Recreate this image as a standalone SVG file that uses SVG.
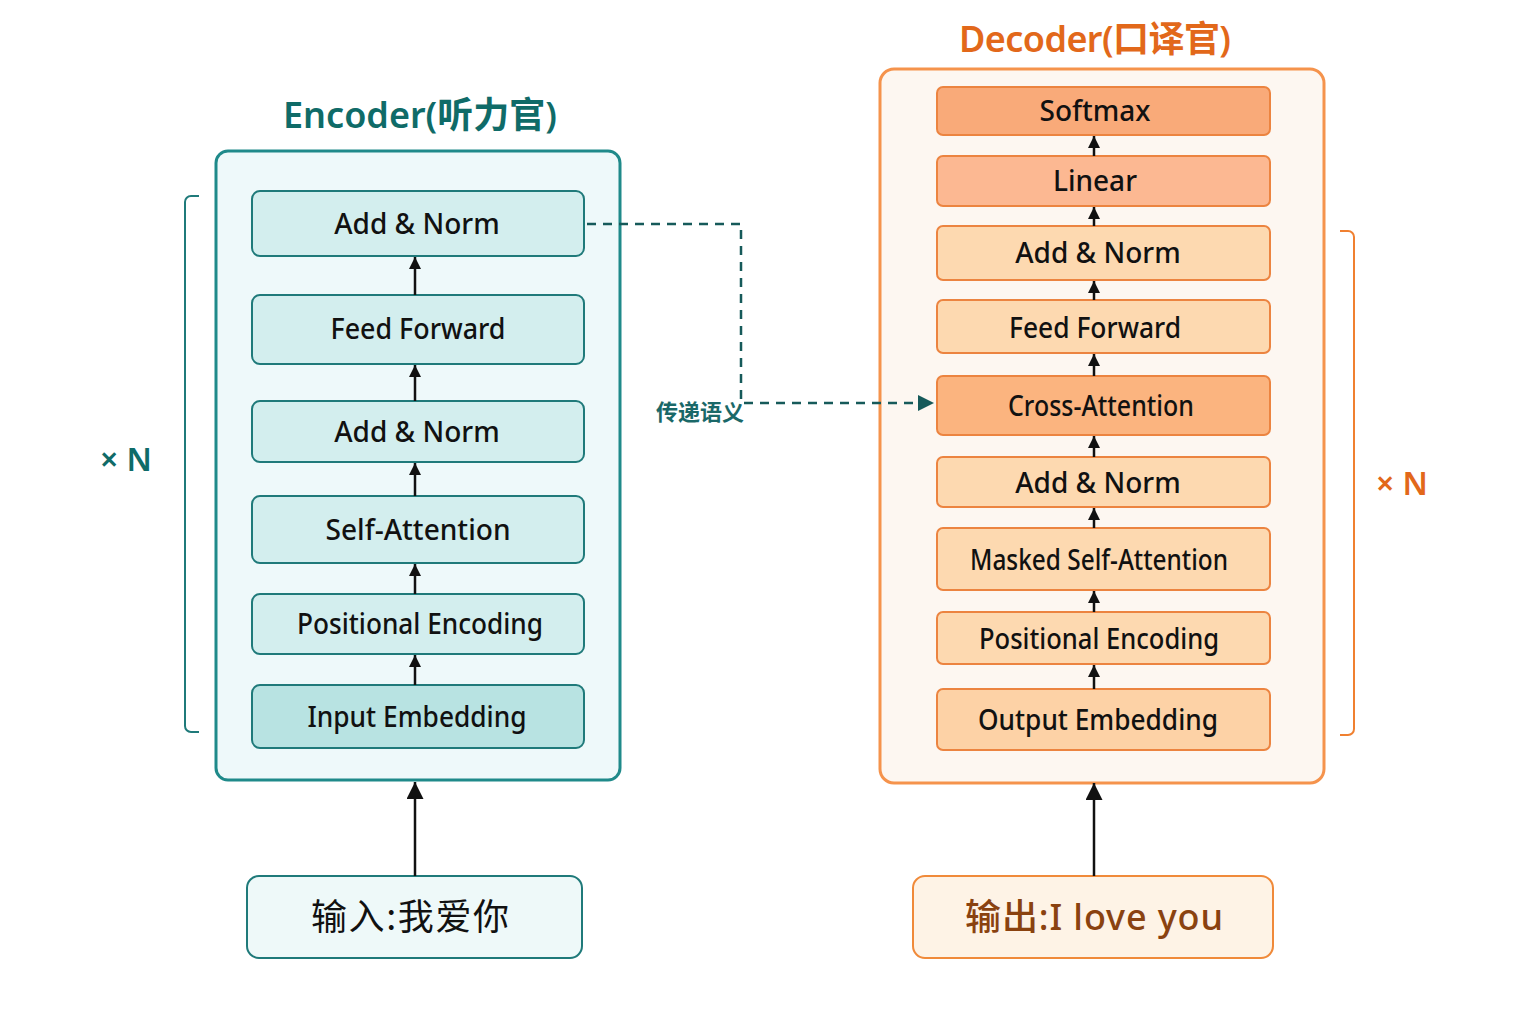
<svg xmlns="http://www.w3.org/2000/svg" width="1536" height="1024" viewBox="0 0 1536 1024">
<defs>
<style>
.lbl{font-family:"Noto Sans","Noto Sans CJK SC",sans-serif;font-size:28px;fill:#111;text-anchor:middle;font-weight:500}
.title{font-family:"Noto Sans","Noto Sans CJK SC",sans-serif;font-size:36px;font-weight:600;text-anchor:middle}
.eb{fill:#d3eeee;stroke:#1f7a7a;stroke-width:2}
.db{stroke:#ec8440;stroke-width:2}
.arr{stroke:#111;stroke-width:2.5;fill:none;marker-end:url(#ah)}
</style>
<marker id="ah" viewBox="0 0 10 10" refX="10" refY="5" markerWidth="12" markerHeight="12" orient="auto" markerUnits="userSpaceOnUse">
<path d="M0,0 L10,5 L0,10 z" fill="#111"/>
</marker>
<marker id="ahb" viewBox="0 0 10 10" refX="10" refY="5" markerWidth="17" markerHeight="17" orient="auto" markerUnits="userSpaceOnUse">
<path d="M0,0 L10,5 L0,10 z" fill="#111"/>
</marker>
<marker id="aht" viewBox="0 0 10 10" refX="10" refY="5" markerWidth="16" markerHeight="16" orient="auto" markerUnits="userSpaceOnUse">
<path d="M0,0 L10,5 L0,10 z" fill="#165a5a"/>
</marker>
</defs>
<rect width="1536" height="1024" fill="#fff"/>

<g id="encoder">
<text class="title" x="420" y="128" fill="#0f6b68" textLength="274" lengthAdjust="spacing">Encoder(听力官)</text>
<rect x="216" y="151" width="404" height="629" rx="12" fill="#eef9fa" stroke="#1f8a8a" stroke-width="3"/>
</g>
<g id="enc-addnorm2"><rect class="eb" x="252" y="191" width="332" height="65" rx="8"/><text class="lbl" x="417" y="234">Add &amp; Norm</text></g>
<g id="enc-ff"><rect class="eb" x="252" y="295" width="332" height="69" rx="8"/><text class="lbl" x="418" y="339" textLength="175" lengthAdjust="spacingAndGlyphs">Feed Forward</text></g>
<g id="enc-addnorm1"><rect class="eb" x="252" y="401" width="332" height="61" rx="8"/><text class="lbl" x="417" y="442">Add &amp; Norm</text></g>
<g id="enc-sa"><rect class="eb" x="252" y="496" width="332" height="67" rx="8"/><text class="lbl" x="418" y="540" textLength="185" lengthAdjust="spacingAndGlyphs">Self-Attention</text></g>
<g id="enc-pe"><rect class="eb" x="252" y="594" width="332" height="60" rx="8"/><text class="lbl" x="420" y="634" textLength="246" lengthAdjust="spacingAndGlyphs">Positional Encoding</text></g>
<g id="enc-ie"><rect class="eb" x="252" y="685" width="332" height="63" rx="8" style="fill:#b8e3e2"/><text class="lbl" x="417" y="727" textLength="219" lengthAdjust="spacingAndGlyphs">Input Embedding</text></g>
<g id="input"><rect x="247" y="876" width="335" height="82" rx="12" fill="#eef9f9" stroke="#1f7a7a" stroke-width="2"/><text class="lbl" x="410" y="930" style="font-size:36px;font-family:'Noto Sans CJK SC',sans-serif;font-weight:400" textLength="198" lengthAdjust="spacing">输入:我爱你</text></g>
<g id="enc-rep">
<path d="M199,196 h-8 a6,6 0 0 0 -6,6 v524 a6,6 0 0 0 6,6 h8" fill="none" stroke="#1f7a7a" stroke-width="2"/>
<text x="100" y="471" style="font-family:'Noto Sans',sans-serif;font-size:32px;font-weight:600" fill="#0f6b68">× N</text>
</g>

<g id="decoder">
<text class="title" x="1095" y="52" fill="#e2681a" textLength="272" lengthAdjust="spacing">Decoder(口译官)</text>
<rect x="880" y="69" width="444" height="714" rx="14" fill="#fdf7f1" stroke="#f5934c" stroke-width="3"/>
</g>
<g id="dec-softmax"><rect class="db" x="937" y="87" width="333" height="48" rx="6" fill="#f9aa79"/><text class="lbl" x="1095" y="121">Softmax</text></g>
<g id="dec-linear"><rect class="db" x="937" y="156" width="333" height="50" rx="6" fill="#fcb892"/><text class="lbl" x="1095" y="191">Linear</text></g>
<g id="dec-addnorm3"><rect class="db" x="937" y="226" width="333" height="54" rx="6" fill="#fdd9b0"/><text class="lbl" x="1098" y="263">Add &amp; Norm</text></g>
<g id="dec-ff"><rect class="db" x="937" y="300" width="333" height="53" rx="6" fill="#fdd9b0"/><text class="lbl" x="1095" y="338" textLength="172" lengthAdjust="spacingAndGlyphs">Feed Forward</text></g>
<g id="dec-ca"><rect class="db" x="937" y="376" width="333" height="59" rx="6" fill="#fbb47f"/><text class="lbl" x="1101" y="416" textLength="186" lengthAdjust="spacingAndGlyphs">Cross-Attention</text></g>
<g id="dec-addnorm1"><rect class="db" x="937" y="457" width="333" height="50" rx="6" fill="#fdd9b0"/><text class="lbl" x="1098" y="493">Add &amp; Norm</text></g>
<g id="dec-msa"><rect class="db" x="937" y="528" width="333" height="62" rx="6" fill="#fdd9b0"/><text class="lbl" x="1099" y="570" textLength="258" lengthAdjust="spacingAndGlyphs">Masked Self-Attention</text></g>
<g id="dec-pe"><rect class="db" x="937" y="612" width="333" height="52" rx="6" fill="#fdd9b0"/><text class="lbl" x="1099" y="649" textLength="240" lengthAdjust="spacingAndGlyphs">Positional Encoding</text></g>
<g id="dec-oe"><rect class="db" x="937" y="689" width="333" height="61" rx="6" fill="#fdd2a6"/><text class="lbl" x="1098" y="730" textLength="240" lengthAdjust="spacingAndGlyphs">Output Embedding</text></g>
<g id="output"><rect x="913" y="876" width="360" height="82" rx="12" fill="#fef3e6" stroke="#f08a3a" stroke-width="2"/><text x="1094" y="930" text-anchor="middle" style="font-family:'Noto Sans','Noto Sans CJK SC',sans-serif;font-size:36px;font-weight:500" fill="#8a4210" textLength="258" lengthAdjust="spacing">输出:I love you</text></g>
<g id="dec-rep">
<path d="M1340,231 h8 a6,6 0 0 1 6,6 v492 a6,6 0 0 1 -6,6 h-8" fill="none" stroke="#f08030" stroke-width="2"/>
<text x="1376" y="495" style="font-family:'Noto Sans',sans-serif;font-size:32px;font-weight:600" fill="#e2681a">× N</text>
</g>

<g id="connectors">
<line class="arr" x1="415" y1="295" x2="415" y2="257"/>
<line class="arr" x1="415" y1="401" x2="415" y2="365"/>
<line class="arr" x1="415" y1="496" x2="415" y2="463"/>
<line class="arr" x1="415" y1="594" x2="415" y2="564"/>
<line class="arr" x1="415" y1="685" x2="415" y2="655"/>
<line x1="415" y1="876" x2="415" y2="782" stroke="#111" stroke-width="2.5" marker-end="url(#ahb)"/>
<line class="arr" x1="1094" y1="156" x2="1094" y2="136"/>
<line class="arr" x1="1094" y1="226" x2="1094" y2="207"/>
<line class="arr" x1="1094" y1="300" x2="1094" y2="281"/>
<line class="arr" x1="1094" y1="376" x2="1094" y2="354"/>
<line class="arr" x1="1094" y1="457" x2="1094" y2="436"/>
<line class="arr" x1="1094" y1="528" x2="1094" y2="508"/>
<line class="arr" x1="1094" y1="612" x2="1094" y2="591"/>
<line class="arr" x1="1094" y1="689" x2="1094" y2="665"/>
<line x1="1094" y1="876" x2="1094" y2="783" stroke="#111" stroke-width="2.5" marker-end="url(#ahb)"/>
<path d="M587,224 H741 V403 H934" fill="none" stroke="#165a5a" stroke-width="2.5" stroke-dasharray="9 7" marker-end="url(#aht)"/>
<text x="700" y="420" text-anchor="middle" style="font-family:'Noto Sans CJK SC',sans-serif;font-size:22px;font-weight:700" fill="#1a6868">传递语义</text>
</g>
</svg>
